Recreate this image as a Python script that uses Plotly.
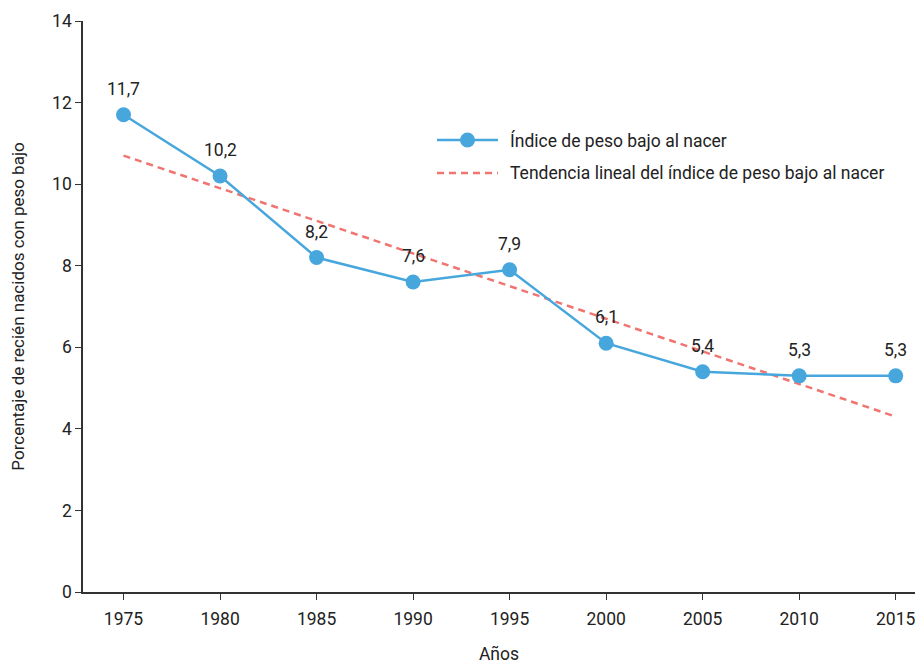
import plotly.graph_objects as go

years = [1975, 1980, 1985, 1990, 1995, 2000, 2005, 2010, 2015]
indice = [11.7, 10.2, 8.2, 7.6, 7.9, 6.1, 5.4, 5.3, 5.3]
trend_years = [1975, 2015]
trend_values = [10.7, 4.3]

serie_name = "Índice de peso bajo al nacer"
trend_name = "Tendencia lineal del índice de peso bajo al nacer"

BLUE = "#47A7DD"
RED = "#F07470"
FONT = "Roboto, Arial, sans-serif"
TXT = "#222222"
DASH = "7px,5px"

fig = go.Figure()
fig.add_trace(go.Scatter(
    x=trend_years, y=trend_values, mode="lines", name=trend_name,
    line=dict(color=RED, width=2.5, dash=DASH), showlegend=False,
))
fig.add_trace(go.Scatter(
    x=years, y=indice, mode="lines+markers", name=serie_name,
    line=dict(color=BLUE, width=2.5),
    marker=dict(color=BLUE, size=15),
    showlegend=False, cliponaxis=False,
))

# custom legend (paper coordinates)
def px_x(p):
    return (p - 83) / 832
def px_y(p):
    return 1 - (p - 21) / 571

shapes = [
    dict(type="line", xref="paper", yref="paper", x0=px_x(437), x1=px_x(498),
         y0=px_y(140), y1=px_y(140), line=dict(color=BLUE, width=2.5)),
    dict(type="line", xref="paper", yref="paper", x0=px_x(437), x1=px_x(498),
         y0=px_y(173), y1=px_y(173), line=dict(color=RED, width=2.5, dash=DASH)),
]
fig.add_trace(go.Scatter(
    x=[px_x(467.5)], y=[px_y(140)], xaxis="x2", yaxis="y2", mode="markers",
    marker=dict(color=BLUE, size=15), showlegend=False, hoverinfo="skip",
))
annotations = [
    dict(xref="paper", yref="paper", x=px_x(508), y=px_y(140), text=serie_name,
         showarrow=False, xanchor="left", yanchor="middle",
         font=dict(size=17.5, color=TXT, family=FONT)),
    dict(xref="paper", yref="paper", x=px_x(508), y=px_y(173), text=trend_name,
         showarrow=False, xanchor="left", yanchor="middle",
         font=dict(size=17.5, color=TXT, family=FONT)),
]
for xv, yv in zip(years, indice):
    annotations.append(dict(
        x=xv, y=yv, xref="x", yref="y", text=f"{yv:.1f}".replace(".", ","),
        showarrow=False, yshift=26, xanchor="center", yanchor="middle",
        font=dict(size=17.5, color=TXT, family=FONT),
    ))

fig.update_layout(
    width=915, height=664,
    margin=dict(l=83, r=0, t=21, b=72),
    paper_bgcolor="white", plot_bgcolor="white",
    font=dict(family=FONT, size=17.5, color=TXT),
    shapes=shapes, annotations=annotations,
    xaxis=dict(
        range=[1972.9, 2016], tickvals=years, ticks="outside", ticklen=6,
        tickcolor="#333", showline=True, linecolor="#333", linewidth=1.5,
        showgrid=False, zeroline=False, ticklabeloverflow="allow",
        ticklabelstandoff=4,
        title=dict(text="Años", standoff=24, font=dict(size=17.5)),
        tickfont=dict(size=17.5),
    ),
    yaxis=dict(
        range=[0, 14], dtick=2, ticks="outside", ticklen=6,
        tickcolor="#333", showline=True, linecolor="#333", linewidth=1.5,
        showgrid=False, zeroline=False,
        title=dict(text="Porcentaje de recién nacidos con peso bajo", standoff=23,
                   font=dict(size=17)),
        tickfont=dict(size=17.5),
    ),
    xaxis2=dict(range=[0, 1], overlaying="x", visible=False),
    yaxis2=dict(range=[0, 1], overlaying="y", visible=False),
)

fig.write_html("out.html", config={"displayModeBar": False})
with open("out.html", encoding="utf-8") as f:
    html = f.read()
html = html.replace("<head>", "<head><style>html,body{margin:0;padding:0;overflow:hidden;}</style>", 1)
with open("out.html", "w", encoding="utf-8") as f:
    f.write(html)
